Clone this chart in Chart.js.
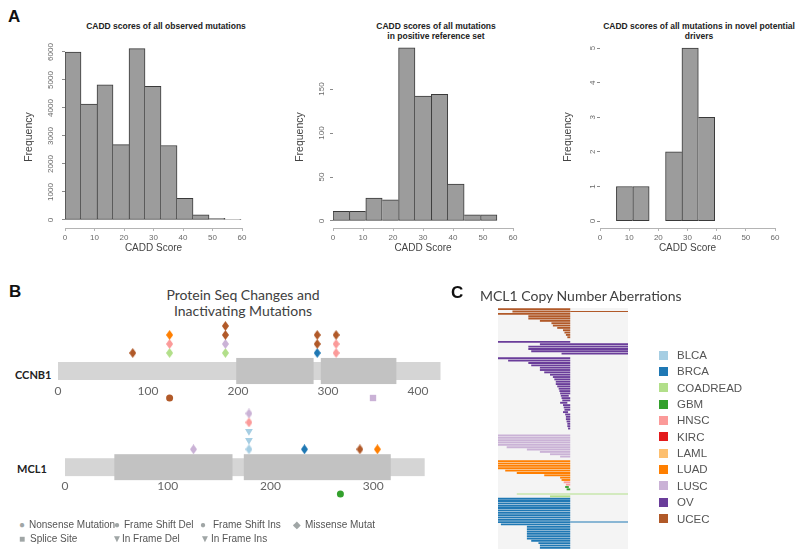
<!DOCTYPE html>
<html>
<head>
<meta charset="utf-8">
<title>CADD scores, CCNB1 / MCL1 mutations and MCL1 copy number</title>
<script src="https://cdn.jsdelivr.net/npm/chart.js@4.4.1/dist/chart.umd.min.js"></script>
<style>
  html, body { margin: 0; padding: 0; background: #fff; }
  body { position: relative; width: 796px; height: 551px; overflow: hidden; font-family: "Liberation Sans", Arial, sans-serif; }
  canvas { position: absolute; }
  .t { position: absolute; white-space: nowrap; }
  .panel { font-weight: bold; font-size: 17px; line-height: 18px; color: #111; }
  .htitle { font-weight: bold; font-size: 8.5px; line-height: 9.5px; color: #222; text-align: center; }
  .stitle { font-family: Lato, "Open Sans", sans-serif; font-size: 14px; line-height: 16px; color: #404040; }
  .gene { font-family: Lato, sans-serif; font-weight: bold; font-size: 11px; line-height: 12px; color: #222; }
  .mleg { font-size: 10px; line-height: 12px; color: #555; }
  .mark { color: #a0a6a6; }
  .cleg { font-size: 11.5px; line-height: 14px; color: #555; }
  .cbox { position: absolute; width: 9px; height: 9px; }
</style>
</head>
<body>
<div class="t panel" style="left:8px;top:8px">A</div>
<div class="t htitle" style="left:66px;width:200px;top:22px">CADD scores of all observed mutations</div>
<div class="t htitle" style="left:336px;width:200px;top:22px">CADD scores of all mutations<br>in positive reference set</div>
<div class="t htitle" style="left:589px;width:220px;top:22px">CADD scores of all mutations in novel potential<br>drivers</div>

<canvas id="hist1" width="265" height="258" style="left:0;top:0"></canvas>
<canvas id="hist2" width="265" height="258" style="left:265px;top:0"></canvas>
<canvas id="hist3" width="266" height="258" style="left:530px;top:0"></canvas>

<div class="t panel" style="left:9px;top:283px">B</div>
<div class="t stitle" style="left:143px;width:200px;top:287px;text-align:center">Protein Seq Changes and<br>Inactivating Mutations</div>
<div class="t gene" style="left:15px;top:369px">CCNB1</div>
<div class="t gene" style="left:17px;top:463px">MCL1</div>
<canvas id="ccnb1" width="460" height="110" style="left:0;top:300px"></canvas>
<canvas id="mcl1" width="460" height="105" style="left:0;top:400px"></canvas>

<span class="t mleg mark" style="left:19px;top:519px">●</span><span class="t mleg" style="left:29px;top:519px">Nonsense Mutation</span>
<span class="t mleg mark" style="left:114px;top:519px">●</span><span class="t mleg" style="left:124px;top:519px">Frame Shift Del</span>
<span class="t mleg mark" style="left:200px;top:519px">●</span><span class="t mleg" style="left:213px;top:519px">Frame Shift Ins</span>
<span class="t mleg mark" style="left:293px;top:519px">◆</span><span class="t mleg" style="left:305px;top:519px">Missense Mutat</span>
<span class="t mleg mark" style="left:19px;top:533px">■</span><span class="t mleg" style="left:30px;top:533px">Splice Site</span>
<span class="t mleg mark" style="left:112px;top:533px">▼</span><span class="t mleg" style="left:122px;top:533px">In Frame Del</span>
<span class="t mleg mark" style="left:200px;top:533px">▼</span><span class="t mleg" style="left:211px;top:533px">In Frame Ins</span>

<div class="t panel" style="left:451px;top:284px">C</div>
<div class="t stitle" style="left:480px;top:288px">MCL1 Copy Number Aberrations</div>
<canvas id="cna" width="200" height="251" style="left:450px;top:300px"></canvas>
<div id="cnaLegend"></div>

<script>
// ---- panel A: CADD score histograms, bin width 5 ----
const binWidth = 5;
const observedBins = [0, 5, 10, 15, 20, 25, 30, 35, 40, 45, 50];
const observedCounts = [6000, 4140, 4830, 2690, 6120, 4770, 2660, 770, 180, 60, 10];
const observedTicks = [0, 1000, 2000, 3000, 4000, 5000, 6000];

const referenceBins = [0, 5, 10, 15, 20, 25, 30, 35, 40, 45];
const referenceCounts = [11, 11, 26, 24, 197, 142, 144, 42, 7, 7];
const referenceTicks = [0, 50, 100, 150];

const driverBins = [5, 10, 15, 20, 25, 30];
const driverCounts = [1, 1, 0, 2, 5, 3];
const driverTicks = [0, 1, 2, 3, 4, 5];

const scoreTicks = [0, 10, 20, 30, 40, 50, 60];

// ---- panel B: protein tracks and mutations [position, cancer, kind] ----
const cancerTypes = ['BLCA', 'BRCA', 'COADREAD', 'GBM', 'HNSC', 'KIRC', 'LAML', 'LUAD', 'LUSC', 'OV', 'UCEC'];
const cancerColors = ['#a6cee3', '#1f78b4', '#b2df8a', '#33a02c', '#fb9a99', '#e31a1c', '#fdbf6f', '#ff7f00', '#cab2d6', '#6a3d9a', '#b15928'];

const ccnb1Length = 425;
const ccnb1Domains = [[198, 284], [292, 376]];
const ccnb1Ticks = [0, 100, 200, 300, 400];
const ccnb1Mutations = [
  [83, 'UCEC', 'Missense'],
  [124, 'COADREAD', 'Missense'], [124, 'HNSC', 'Missense'], [124, 'LUAD', 'Missense'],
  [186, 'COADREAD', 'Missense'], [186, 'LUSC', 'Missense'], [186, 'UCEC', 'Missense'], [186, 'UCEC', 'Missense'],
  [288, 'BRCA', 'Missense'], [288, 'UCEC', 'Missense'], [288, 'UCEC', 'Missense'],
  [309, 'HNSC', 'Missense'], [309, 'HNSC', 'Missense'], [309, 'UCEC', 'Missense'],
  [124, 'UCEC', 'Nonsense'], [350, 'LUSC', 'Splice']
];

const mcl1Length = 350;
const mcl1Domains = [[48, 163], [174, 317]];
const mcl1Ticks = [0, 100, 200, 300];
const mcl1Mutations = [
  [125, 'LUSC', 'Missense'],
  [179, 'BLCA', 'Missense'], [179, 'BLCA', 'InFrameDel'], [179, 'BLCA', 'InFrameIns'], [179, 'HNSC', 'Missense'], [179, 'LUSC', 'Missense'],
  [233, 'BRCA', 'Missense'], [287, 'UCEC', 'Missense'], [304, 'LUAD', 'Missense'],
  [268, 'GBM', 'Nonsense']
];

// ---- panel C: MCL1 copy number, one row per sample, [from, to] ----
const cnaRowCount = 103;
const cnaUCEC = {start: 0, rows: [[-5, 0], [-4, 0], [-5, 0], [-2.9, 0], [-2.9, 0], [-2.1, 0], [-1.3, 0], [-1.2, 0], [-0.9, 0], [-0.5, 0], [-0.4, 0], [-0.3, 0], [-0.2, 0]]};
const cnaOV = {start: 14, rows: [[-5, 0], [-2.1, 4], [-2.9, 4], [-2.9, 4], [-2.7, 4], [-0.6, 4], null,
  [-5, 0], [-4.3, 0], [-2.9, 0], [-2.7, 0], [-2.1, 0], [-2.1, 0], [-1.8, 0], [-1.4, 0], [-1.2, 0], [-1.1, 0],
  [-1, 0], [-1, 0], [-0.9, 0], [-0.8, 0], [-0.75, 0], [-0.7, 0], [-0.65, -0.1], [-0.6, 0], [-0.55, 0], [-0.7, -0.2],
  [-0.5, 0], [-0.45, 0], [-0.4, 0], [-0.5, -0.15], [-0.35, 0], [-0.3, 0], [-0.3, 0], [-0.25, 0], [-0.2, 0], [-0.2, 0], [-0.15, 0]]};
const cnaLUSC = {start: 54, rows: [[-5, 0], [-5, 0], [-5, 0], [-5, 0], [-5, 0], [-4.4, 0], [-3, 0], [-2.1, 0], [-1.4, 0], [-0.7, 0]]};
const cnaLUAD = {start: 65, rows: [[-5, 0], [-5, 0], [-5, 0], [-5, 0], [-4.5, 0], [-3.7, 0], [-1.8, 0], [-0.7, 0], [-0.6, 0]]};
const cnaHNSC = {start: 74, rows: [[-0.45, 0], [-0.3, 0]]};
const cnaGBM = {start: 76, rows: [[-0.35, -0.1], [-0.25, 0]]};
const cnaCOADREAD = {start: 80, rows: [[-1.4, 0]]};
const cnaBRCA = {start: 81, rows: [[-5, 0], [-5, 0], [-5, 0], [-5, 0], [-5, 0], [-5, 0], [-5, 0], [-5, 0], [-5, 0], [-5, 0], [-5, 0],
  [-4.8, 0], [-3, 0], [-3, 0], [-3, 0], [-3, 0], [-3, 0], [-3, 0], [-2.7, 0], [-2.2, 0], [-2.1, 0], [-2.1, 0]]};
const cnaThinLines = [
  {cancer: 'UCEC', row: 1, span: [0, 4]},
  {cancer: 'COADREAD', row: 79, span: [-3.7, 4]},
  {cancer: 'BRCA', row: 91, span: [0, 4]}
];

Chart.defaults.font.family = '"Liberation Sans", Arial, sans-serif';

const colorOf = name => cancerColors[cancerTypes.indexOf(name)];

// Histogram: bars on a hidden linear axis, score labels on a second axis
function histogram(id, bins, counts, yTicks, cfg) {
  const h = i => (i >= 0 && i < counts.length ? counts[i] : 0);
  new Chart(document.getElementById(id), {
    type: 'bar',
    data: {
      datasets: [{
        xAxisID: 'x',
        yAxisID: 'y',
        data: bins.map((b, i) => ({x: b + binWidth / 2, y: counts[i] > 0 ? counts[i] : null})),
        backgroundColor: '#9c9c9c',
        borderColor: '#3a3a3a',
        borderSkipped: false,
        borderWidth: ctx => {
          const i = ctx.dataIndex, v = h(i);
          return {top: 1, bottom: 1, left: h(i - 1) <= v ? 1 : 0, right: h(i + 1) < v ? 1 : 0};
        },
        barPercentage: 1,
        categoryPercentage: 1
      }]
    },
    options: {
      responsive: false,
      animation: false,
      layout: {padding: {top: 46, right: cfg.padRight, bottom: 0, left: 0}},
      plugins: {legend: {display: false}, tooltip: {enabled: false}},
      scales: {
        x: {type: 'linear', display: false, min: 0, max: cfg.barMax, offset: false},
        x2: {
          type: 'linear', axis: 'x', position: 'bottom', min: 0, max: 60, offset: false,
          afterBuildTicks: s => { s.ticks = scoreTicks.map(v => ({value: v})); },
          afterFit: s => { s.height = 30; },
          border: {display: true, color: '#b4b4b4'},
          grid: {drawOnChartArea: false, offset: false, tickLength: 3, color: '#b4b4b4'},
          ticks: {padding: 2, color: '#6a6a6a', font: {size: 8}, maxRotation: 0, autoSkip: false},
          title: {display: true, text: 'CADD Score', color: '#444', font: {size: 10}, padding: {top: 0, bottom: 4}}
        },
        y: {
          type: 'linear', min: cfg.yMin, max: cfg.yMax,
          afterBuildTicks: s => { s.ticks = yTicks.map(v => ({value: v})); },
          afterFit: s => { s.width = cfg.left; },
          border: {display: false},
          grid: {drawOnChartArea: false, tickLength: 3, color: '#8a8a8a'},
          ticks: {minRotation: 90, maxRotation: 90, crossAlign: 'center', padding: 2, color: '#6a6a6a', font: {size: 8},
            callback: v => String(v)},
          title: {display: true, text: 'Frequency', color: '#444', font: {size: 10.5}, padding: {top: cfg.titleX - 6, bottom: 0}}
        }
      }
    }
  });
}

histogram('hist1', observedBins, observedCounts, observedTicks,
  {left: 65, padRight: 23, barMax: 55.3, yMin: -286, yMax: 6214, titleX: 29});
histogram('hist2', referenceBins, referenceCounts, referenceTicks,
  {left: 68, padRight: 17, barMax: 54.9, yMin: -8, yMax: 199, titleX: 35});
histogram('hist3', driverBins, driverCounts, driverTicks,
  {left: 70, padRight: 21, barMax: 53.4, yMin: -0.2, yMax: 5.06, titleX: 38});

// protein backbone and domains, drawn through the chart scales
const proteinTrack = {
  id: 'proteinTrack',
  beforeDatasetsDraw(chart, args, opts) {
    const {ctx} = chart;
    const x = chart.scales.x, y = chart.scales.y;
    const box = (a, b, half, color) => {
      const x0 = x.getPixelForValue(a), x1 = x.getPixelForValue(b);
      const y0 = y.getPixelForValue(half), y1 = y.getPixelForValue(-half);
      ctx.fillStyle = color;
      ctx.fillRect(x0, y0, x1 - x0, y1 - y0);
    };
    ctx.save();
    box(0, opts.length, 1, '#d5d5d5');
    opts.domains.forEach(d => box(d[0], d[1], 1.45, '#c2c2c2'));
    ctx.restore();
  }
};

const diamondCache = {};
function diamond(color) {
  if (!diamondCache[color]) {
    const c = document.createElement('canvas');
    c.width = 7; c.height = 10;
    const g = c.getContext('2d');
    g.fillStyle = color;
    g.beginPath();
    g.moveTo(3.5, 0); g.lineTo(7, 5); g.lineTo(3.5, 10); g.lineTo(0, 5);
    g.closePath();
    g.fill();
    diamondCache[color] = c;
  }
  return diamondCache[color];
}

function markerStyle(r) {
  if (!r.kind) return 'circle';
  if (r.kind === 'Missense') return diamond(colorOf(r.cancer));
  if (r.kind === 'Nonsense') return 'circle';
  if (r.kind === 'Splice') return 'rect';
  return 'triangle';
}

function lollipop(id, length, domains, mutations, ticks, cfg) {
  const stack = {};
  const points = mutations.map(([pos, cancer, kind]) => {
    const below = kind === 'Nonsense' || kind === 'Splice';
    const key = pos + (below ? 'b' : 'a');
    stack[key] = (stack[key] || 0) + 1;
    return {x: pos, y: below ? -3 : 1 + stack[key], cancer, kind};
  });
  new Chart(document.getElementById(id), {
    type: 'scatter',
    data: {
      datasets: [{
        data: points,
        pointStyle: ctx => markerStyle(ctx.raw || {}),
        rotation: ctx => (ctx.raw && ctx.raw.kind.indexOf('InFrame') === 0 ? 180 : 0),
        pointRadius: ctx => (ctx.raw && ctx.raw.kind === 'Nonsense' ? 3.5 : 4.5),
        backgroundColor: ctx => (ctx.raw ? colorOf(ctx.raw.cancer) : '#999'),
        borderWidth: 0,
        clip: false
      }]
    },
    options: {
      responsive: false,
      animation: false,
      layout: {padding: cfg.padding},
      plugins: {legend: {display: false}, tooltip: {enabled: false}, proteinTrack: {length, domains}},
      scales: {
        x: {
          type: 'linear', min: 0, max: cfg.xMax, position: {y: cfg.axisAt},
          afterBuildTicks: s => { s.ticks = ticks.map(v => ({value: v})); },
          grid: {display: false, drawTicks: false},
          border: {display: false},
          ticks: {padding: 0, color: '#666', font: {family: 'Lato', size: 12}, maxRotation: 0}
        },
        y: {type: 'linear', min: cfg.yMin, max: cfg.yMax, display: false}
      }
    },
    plugins: [proteinTrack]
  });
}

lollipop('ccnb1', ccnb1Length, ccnb1Domains, ccnb1Mutations, ccnb1Ticks,
  {padding: {left: 58, right: 6, top: 17, bottom: 6}, xMax: 440, yMin: -3.667, yMax: 6, axisAt: -1.444});
lollipop('mcl1', mcl1Length, mcl1Domains, mcl1Mutations, mcl1Ticks,
  {padding: {left: 65, right: 2.4, top: 4, bottom: 5}, xMax: 380, yMin: -3.667, yMax: 7, axisAt: -1.333});

// ---- panel C ----
const plotBackground = {
  id: 'plotBackground',
  beforeDraw(chart) {
    const {ctx, chartArea: a} = chart;
    ctx.save();
    ctx.fillStyle = '#f4f4f4';
    ctx.fillRect(a.left, a.top, a.width, a.height);
    ctx.restore();
  }
};

const cnaGroups = [
  ['UCEC', cnaUCEC], ['OV', cnaOV], ['LUSC', cnaLUSC], ['LUAD', cnaLUAD], ['HNSC', cnaHNSC],
  ['GBM', cnaGBM], ['COADREAD', cnaCOADREAD], ['BRCA', cnaBRCA]
];
const rowLabels = Array.from({length: cnaRowCount}, (_, i) => String(i));
const cnaDatasets = cnaGroups.map(([cancer, group]) => {
  const data = new Array(cnaRowCount).fill(null);
  group.rows.forEach((r, i) => { data[group.start + i] = r; });
  return {label: cancer, data, backgroundColor: colorOf(cancer), barPercentage: 0.8, categoryPercentage: 1, grouped: false};
});
cnaThinLines.forEach(line => {
  const data = new Array(cnaRowCount).fill(null);
  data[line.row] = line.span;
  cnaDatasets.push({label: line.cancer, data, backgroundColor: colorOf(line.cancer), barPercentage: 0.4, categoryPercentage: 1, grouped: false});
});

new Chart(document.getElementById('cna'), {
  type: 'bar',
  data: {labels: rowLabels, datasets: cnaDatasets},
  options: {
    indexAxis: 'y',
    responsive: false,
    animation: false,
    layout: {padding: {left: 48, right: 22, top: 8, bottom: 2}},
    plugins: {legend: {display: false}, tooltip: {enabled: false}},
    scales: {
      x: {type: 'linear', min: -5, max: 4, display: false},
      y: {type: 'category', display: false}
    }
  },
  plugins: [plotBackground]
});

// legend of cancer types
const legendBox = document.getElementById('cnaLegend');
cancerTypes.forEach((name, i) => {
  const cy = 355 + i * 16.35;
  const sq = document.createElement('div');
  sq.className = 'cbox';
  sq.style.left = '659px';
  sq.style.top = (cy - 4.5) + 'px';
  sq.style.background = cancerColors[i];
  legendBox.appendChild(sq);
  const tx = document.createElement('div');
  tx.className = 't cleg';
  tx.style.left = '677px';
  tx.style.top = (cy - 7) + 'px';
  tx.textContent = name;
  legendBox.appendChild(tx);
});
</script>
</body>
</html>
